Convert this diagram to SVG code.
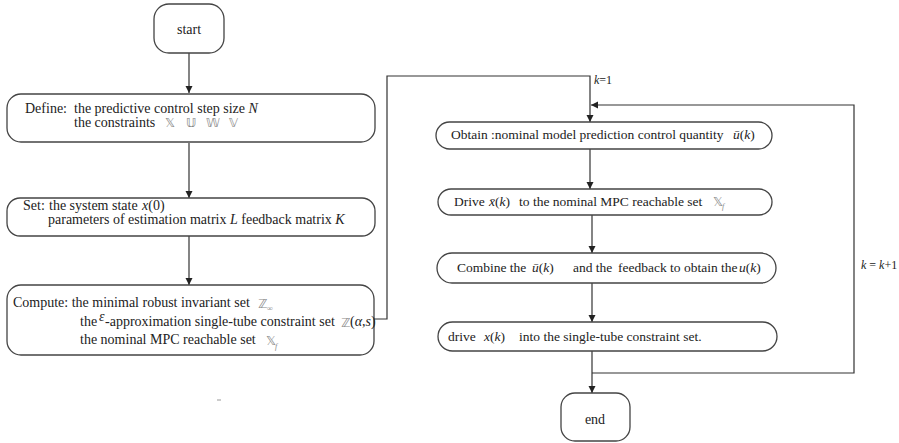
<svg xmlns="http://www.w3.org/2000/svg" width="899" height="443" viewBox="0 0 899 443">
<style>
.box{fill:#fff;stroke:#444;stroke-width:1.3}
.ln{fill:none;stroke:#333;stroke-width:1.2}
text{font-family:"Liberation Serif","Times New Roman",serif;font-size:14px;fill:#222}
.r{font-size:13.5px}
.it{font-style:italic}
.bb{font-family:"DejaVu Sans","Noto Sans",sans-serif;font-size:12.5px;fill:#888}
.sub{font-size:8px;fill:#888;font-style:italic}
.lbl{font-size:12px}
</style>
<defs>
<marker id="ah" markerWidth="8" markerHeight="8" refX="7" refY="4" orient="auto" markerUnits="userSpaceOnUse">
<path d="M0,0.5 L7,4 L0,7.5 Z" fill="#222"/>
</marker>
</defs>
<g id="connectors">
<line class="ln" x1="189" y1="53" x2="189" y2="93" marker-end="url(#ah)"/>
<line class="ln" x1="189" y1="143" x2="189" y2="198" marker-end="url(#ah)"/>
<line class="ln" x1="189" y1="236" x2="189" y2="285" marker-end="url(#ah)"/>
<polyline class="ln" points="374,319 387,319 387,76 590,76 590,122" marker-end="url(#ah)"/>
<polyline class="ln" points="592,373 854,373 854,105 591,105" marker-end="url(#ah)"/>
<line class="ln" x1="590" y1="149" x2="590" y2="189" marker-end="url(#ah)"/>
<line class="ln" x1="592" y1="215" x2="592" y2="253" marker-end="url(#ah)"/>
<line class="ln" x1="592" y1="283" x2="592" y2="322" marker-end="url(#ah)"/>
<line class="ln" x1="592" y1="351" x2="592" y2="393" marker-end="url(#ah)"/>
<text class="lbl" x="594" y="84"><tspan class="it">k</tspan>=1</text>
<text class="lbl" x="861" y="269"><tspan class="it">k</tspan> = <tspan class="it">k</tspan>+1</text>
</g>
<g id="start">
<rect class="box" x="154" y="4" width="70" height="49" rx="15"/>
<text x="189" y="34" text-anchor="middle">start</text>
</g>
<g id="define">
<rect class="box" x="7" y="94" width="368" height="48" rx="14"/>
<text x="25" y="113">Define:</text>
<text x="74" y="113">the predictive control step size <tspan class="it">N</tspan></text>
<text x="74" y="127">the constraints</text>
<text class="bb" x="165" y="127">𝕏</text>
<text class="bb" x="186" y="127">𝕌</text>
<text class="bb" x="206" y="127">𝕎</text>
<text class="bb" x="229" y="127">𝕍</text>
</g>
<g id="set">
<rect class="box" x="7" y="198" width="368" height="38" rx="13"/>
<text x="23" y="210">Set:</text>
<text x="49" y="210">the system state</text>
<text x="142" y="210"><tspan class="it">x</tspan>(0)</text>
<text x="48" y="224">parameters of estimation matrix <tspan class="it">L</tspan> feedback matrix <tspan class="it">K</tspan></text>
</g>
<g id="compute">
<rect class="box" x="7" y="285" width="367" height="70" rx="14"/>
<text x="13" y="307">Compute: the minimal robust invariant set</text>
<text class="bb" x="258" y="308">ℤ</text>
<text class="sub" x="267" y="311" font-style="normal">∞</text>
<text x="80" y="326">the</text>
<text class="it" x="99" y="321" font-size="8" fill="#888">ε</text>
<text x="105" y="326">-approximation single-tube constraint set</text>
<text class="bb" x="341" y="327">ℤ</text>
<text x="350" y="326">(<tspan class="it">α</tspan>,<tspan class="it">s</tspan>)</text>
<text x="80" y="344">the nominal MPC reachable set</text>
<text class="bb" x="266" y="345">𝕏</text>
<text class="sub" x="275" y="349">f</text>
</g>
<g id="obtain">
<rect class="box" x="436" y="122" width="336" height="27" rx="13.5"/>
<text class="r" x="451" y="139">Obtain :nominal model prediction control quantity</text>
<text class="r" x="733" y="139"><tspan class="it">ū</tspan>(<tspan class="it">k</tspan>)</text>
</g>
<g id="drive1">
<rect class="box" x="438" y="189" width="334" height="26" rx="13"/>
<text class="r" x="454" y="206">Drive</text>
<text class="r" x="489" y="206"><tspan class="it">x̄</tspan>(<tspan class="it">k</tspan>)</text>
<text class="r" x="519" y="206">to the nominal MPC reachable set</text>
<text class="bb" x="713" y="206">𝕏</text>
<text class="sub" x="722" y="209">f</text>
</g>
<g id="combine">
<rect class="box" x="437" y="253" width="339" height="30" rx="15"/>
<text class="r" x="457" y="272">Combine the</text>
<text class="r" x="532" y="272"><tspan class="it">ū</tspan>(<tspan class="it">k</tspan>)</text>
<text class="r" x="573" y="272">and the</text>
<text class="r" x="618" y="272">feedback to obtain the</text>
<text class="r" x="739" y="272"><tspan class="it">u</tspan>(<tspan class="it">k</tspan>)</text>
</g>
<g id="drive2">
<rect class="box" x="438" y="322" width="339" height="29" rx="14.5"/>
<text class="r" x="448" y="341">drive</text>
<text class="r" x="484" y="341"><tspan class="it">x</tspan>(<tspan class="it">k</tspan>)</text>
<text class="r" x="519" y="341">into the single-tube constraint set.</text>
</g>
<g id="end">
<rect class="box" x="561" y="393" width="69" height="48" rx="14"/>
<text x="595" y="424" text-anchor="middle">end</text>
</g>
<line x1="217" y1="400" x2="221" y2="400" stroke="#999" stroke-width="1"/>
</svg>
